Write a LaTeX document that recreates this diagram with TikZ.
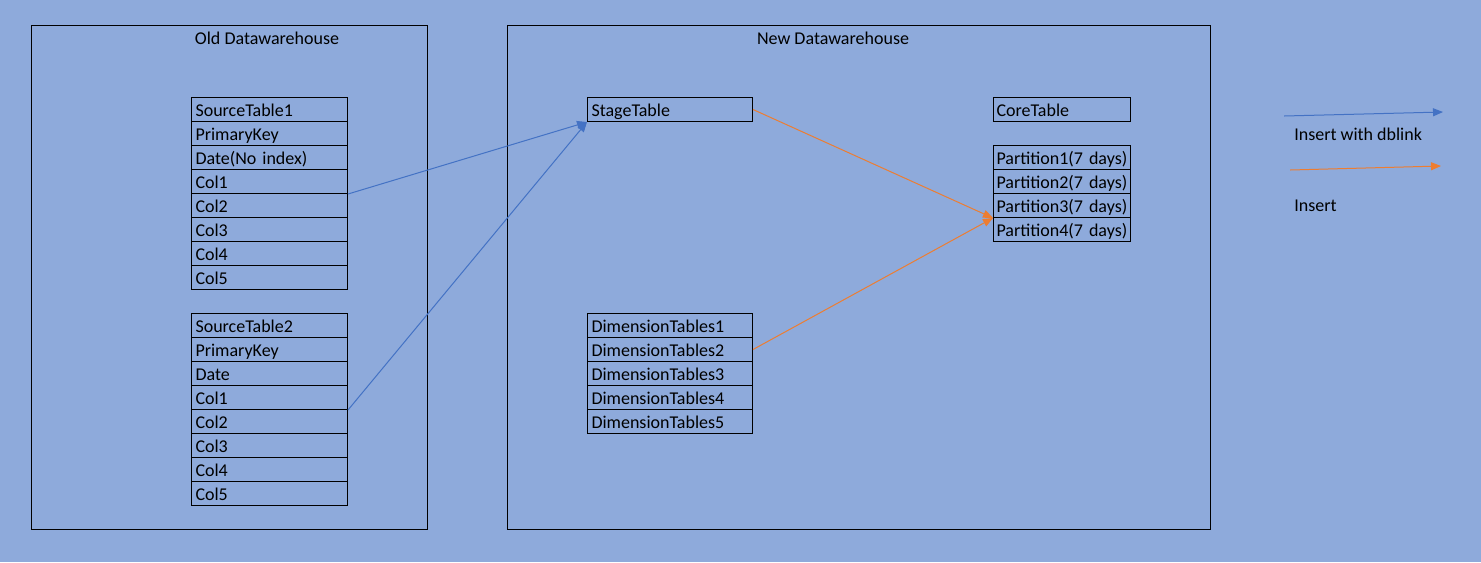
\documentclass[tikz,border=0pt]{standalone}
\usepackage{fontspec}
\setmainfont{Carlito}
\usetikzlibrary{arrows.meta}

\definecolor{bgblue}{HTML}{8EAADB}
\definecolor{linkblue}{HTML}{4472C4}
\definecolor{insorange}{HTML}{ED7D31}

\begin{document}
\begin{tikzpicture}[
    x=0.75pt, y=-0.75pt,
    font=\fontsize{13.5pt}{16pt}\selectfont,
    frame/.style={draw, line width=0.75pt, anchor=north west, inner sep=0pt},
    cell/.style={draw, line width=0.75pt, anchor=north west, minimum height=18pt,
        inner xsep=3pt, inner ysep=0pt, text width=111pt, align=left,
        text height=2.1ex, text depth=0pt},
    wide/.style={cell, text width=117.75pt},
    core/.style={cell, inner xsep=2.25pt, text width=98.25pt},
    label/.style={inner sep=0pt, anchor=west},
    dblink/.style={draw=linkblue, line width=0.75pt, -{Triangle[length=7.5pt,width=6pt]}},
    insert/.style={draw=insorange, line width=0.75pt, -{Triangle[length=7.5pt,width=6pt]}}
]

% background
\fill[bgblue] (0,0) rectangle (1481,562);

% Left: old warehouse
\node[frame, minimum width=297pt, minimum height=378pt] (old) at (31,25) {};
\node (oldtitle) at (267,38) {Old Datawarehouse};

\node[cell] (a0) at (191,97)  {SourceTable1};
\node[cell] (a1) at (191,121) {PrimaryKey};
\node[cell] (a2) at (191,145) {Date(No index)};
\node[cell] (a3) at (191,169) {Col1};
\node[cell] (a4) at (191,193) {Col2};
\node[cell] (a5) at (191,217) {Col3};
\node[cell] (a6) at (191,241) {Col4};
\node[cell] (a7) at (191,265) {Col5};

\node[cell] (b0) at (191,313) {SourceTable2};
\node[cell] (b1) at (191,337) {PrimaryKey};
\node[cell] (b2) at (191,361) {Date};
\node[cell] (b3) at (191,385) {Col1};
\node[cell] (b4) at (191,409) {Col2};
\node[cell] (b5) at (191,433) {Col3};
\node[cell] (b6) at (191,457) {Col4};
\node[cell] (b7) at (191,481) {Col5};

% Right: new warehouse
\node[frame, minimum width=527.25pt, minimum height=378pt] (new) at (507,25) {};
\node (newtitle) at (833,38) {New Datawarehouse};

\node[wide] (stage) at (587,97) {StageTable};

\node[wide] (d1) at (587,313) {DimensionTables1};
\node[wide] (d2) at (587,337) {DimensionTables2};
\node[wide] (d3) at (587,361) {DimensionTables3};
\node[wide] (d4) at (587,385) {DimensionTables4};
\node[wide] (d5) at (587,409) {DimensionTables5};

\node[core] (coretab) at (993,97) {CoreTable};
\node[core] (p1) at (993,145) {Partition1(7~days)};
\node[core] (p2) at (993,169) {Partition2(7~days)};
\node[core] (p3) at (993,193) {Partition3(7~days)};
\node[core] (p4) at (993,217) {Partition4(7~days)};

\draw[dblink] (a3.south east) -- (stage.south west);
\draw[dblink] (b3.south east) -- (stage.south west);
\draw[insert] (stage.east) -- (p3.south west);
\draw[insert] (d2.east) -- (p3.south west);

% legend
\coordinate (l1) at (1284,116);
\coordinate (l2) at (1443,112);
\coordinate (l3) at (1290,170);
\coordinate (l4) at (1441,166);
\draw[dblink] (l1) -- (l2);
\draw[insert] (l3) -- (l4);
\node[label] (dbtext) at (1294,134) {Insert with dblink};
\node[label] (instext) at (1294,206) {Insert};

\end{tikzpicture}
\end{document}
